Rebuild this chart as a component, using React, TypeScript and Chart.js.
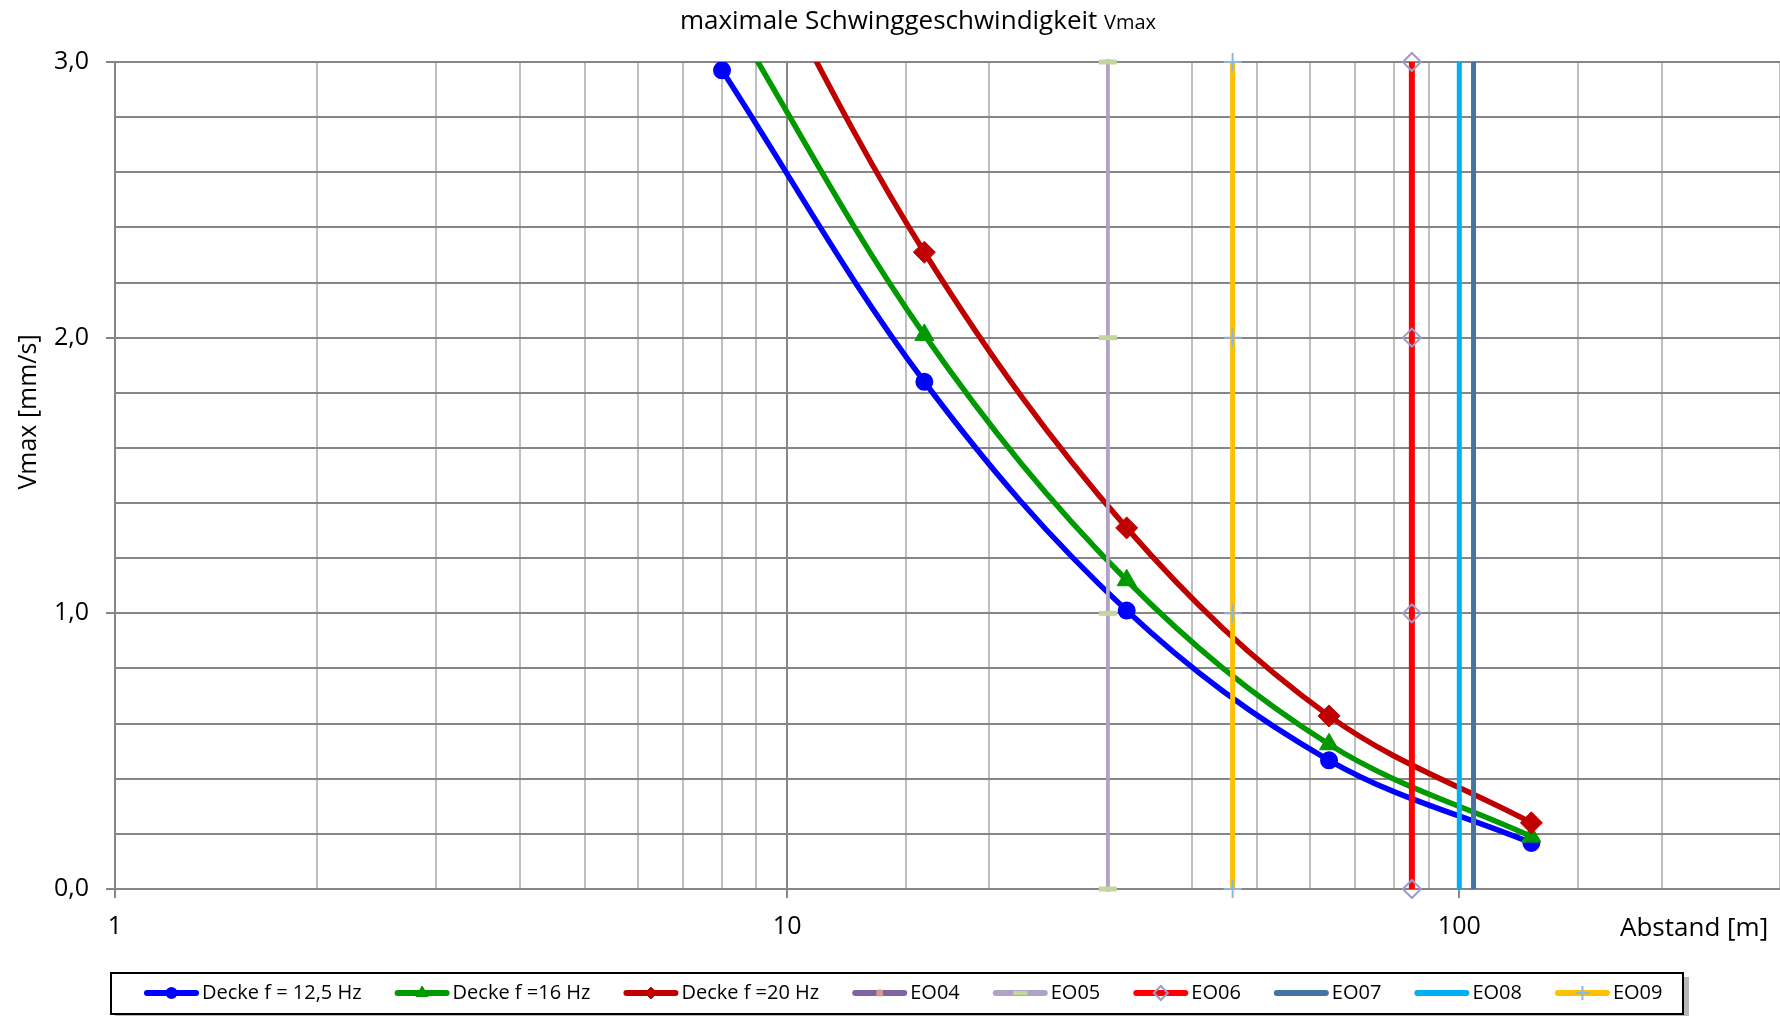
import React, { useEffect, useRef } from 'react';
import { Chart, registerables } from 'chart.js';

Chart.register(...registerables);

const FONT = "'Open Sans', 'DejaVu Sans', sans-serif";

// ---------- data ----------
const distances = [8, 16, 32, 64, 128];
const vmax125 = [2.97, 1.84, 1.01, 0.467, 0.167];
const vmax16 = [3.22, 2.01, 1.12, 0.525, 0.19];
const vmax20 = [3.65, 2.31, 1.31, 0.628, 0.24];
const curveLabels = ['Decke f = 12,5 Hz', 'Decke f =16 Hz', 'Decke f =20 Hz'];

const eoLabels = ['EO04', 'EO05', 'EO06', 'EO07', 'EO08', 'EO09'];
const eoDistances = [30, 30, 85, 105, 100, 46];
const eoLevels = [0, 1, 2, 3];

const xTickLabels = [1, 10, 100];
const yTickLabels = [0, 1, 2, 3];
const xMin = 1;
const xMax = 300;
const yMin = 0;
const yMax = 3;
const yStep = 0.2;

const titleMain = 'maximale Schwinggeschwindigkeit ';
const titleSub = 'Vmax';
const xTitle = 'Abstand [m]';
const yTitle = 'Vmax [mm/s]';

// ---------- styles ----------
type Sty = {
  color: string;
  width: number;
  point: string | false;
  radius: number;
  pBg: string;
  pBorder: string;
  pbw: number;
  lRadius: number;
};

const curveStyles: Sty[] = [
  { color: '#0000ff', width: 5.5, point: 'circle', radius: 8, pBg: '#0000ff', pBorder: '#0000ff', pbw: 2, lRadius: 5 },
  { color: '#009900', width: 5.5, point: 'triangle', radius: 11, pBg: '#009900', pBorder: '#009900', pbw: 1, lRadius: 7 },
  { color: '#c00000', width: 5.5, point: 'rectRot', radius: 11, pBg: '#c00000', pBorder: '#c00000', pbw: 1, lRadius: 6 },
];

const eoStyles: Sty[] = [
  { color: '#8064a2', width: 3, point: 'rect', radius: 3, pBg: '#d99694', pBorder: '#d99694', pbw: 1, lRadius: 4 },
  { color: '#b3a2c7', width: 3.5, point: 'line', radius: 9, pBg: '#c3d69b', pBorder: '#c3d69b', pbw: 5, lRadius: 7 },
  { color: '#ff0000', width: 6, point: 'rectRot', radius: 9, pBg: 'rgba(0,0,0,0)', pBorder: '#a39ac7', pbw: 2, lRadius: 7 },
  { color: '#4672a8', width: 5, point: false, radius: 0, pBg: '#4672a8', pBorder: '#4672a8', pbw: 0, lRadius: 0 },
  { color: '#00b0f0', width: 5, point: false, radius: 0, pBg: '#00b0f0', pBorder: '#00b0f0', pbw: 0, lRadius: 0 },
  { color: '#ffc000', width: 5, point: 'cross', radius: 9, pBg: '#8eb4e3', pBorder: '#8eb4e3', pbw: 2, lRadius: 7 },
];

const near = (a: number, b: number) => Math.abs(a - b) < 1e-6;
const isXLabel = (v: number) => xTickLabels.some((t) => near(t, v));
const isYLabel = (v: number) => yTickLabels.some((t) => near(t, v));
const isPow10 = (v: number) => {
  if (!(v > 0)) return false;
  const l = Math.log10(v);
  return Math.abs(l - Math.round(l)) < 1e-9;
};

function drawMarker(ctx: CanvasRenderingContext2D, style: string, x: number, y: number, r: number, bg: string, border: string, bw: number) {
  ctx.save();
  ctx.fillStyle = bg;
  ctx.strokeStyle = border;
  ctx.lineWidth = bw;
  ctx.beginPath();
  if (style === 'circle') {
    ctx.arc(x, y, r, 0, Math.PI * 2);
    ctx.fill();
    ctx.stroke();
  } else if (style === 'triangle') {
    ctx.moveTo(x, y - r);
    ctx.lineTo(x + r * 0.866, y + r * 0.5);
    ctx.lineTo(x - r * 0.866, y + r * 0.5);
    ctx.closePath();
    ctx.fill();
    ctx.stroke();
  } else if (style === 'rectRot') {
    ctx.moveTo(x, y - r);
    ctx.lineTo(x + r, y);
    ctx.lineTo(x, y + r);
    ctx.lineTo(x - r, y);
    ctx.closePath();
    ctx.fill();
    ctx.stroke();
  } else if (style === 'rect') {
    ctx.rect(x - r * 0.7, y - r * 0.7, r * 1.4, r * 1.4);
    ctx.fill();
    ctx.stroke();
  } else if (style === 'line') {
    ctx.moveTo(x - r, y);
    ctx.lineTo(x + r, y);
    ctx.stroke();
  } else if (style === 'cross') {
    ctx.moveTo(x - r, y);
    ctx.lineTo(x + r, y);
    ctx.moveTo(x, y - r);
    ctx.lineTo(x, y + r);
    ctx.stroke();
  }
  ctx.restore();
}

const textPlugin = {
  id: 'customText',
  afterDraw(chart: any) {
    const ctx: CanvasRenderingContext2D = chart.ctx;
    ctx.save();
    // title
    ctx.fillStyle = '#000';
    ctx.textBaseline = 'alphabetic';
    ctx.textAlign = 'left';
    ctx.font = `26px ${FONT}`;
    const wMain = ctx.measureText(titleMain).width;
    ctx.font = `20px ${FONT}`;
    const wSub = ctx.measureText(titleSub).width;
    const tx = 918 - (wMain + wSub) / 2;
    ctx.font = `26px ${FONT}`;
    ctx.fillText(titleMain, tx, 29);
    ctx.font = `20px ${FONT}`;
    ctx.fillText(titleSub, tx + wMain, 29);

    // x axis title
    ctx.font = `26px ${FONT}`;
    ctx.textAlign = 'left';
    ctx.fillText(xTitle, 1620, 936);

    // y axis title
    ctx.save();
    ctx.translate(29, 412);
    ctx.rotate(-Math.PI / 2);
    ctx.textAlign = 'center';
    ctx.textBaseline = 'middle';
    ctx.font = `25px ${FONT}`;
    ctx.fillText(yTitle, 0, 0);
    ctx.restore();

    // legend
    const bx = 110, by = 972, bw = 1574, bh = 43;
    ctx.fillStyle = 'rgba(0,0,0,0.28)';
    ctx.fillRect(bx + 5, by + 5, bw, bh);
    ctx.fillStyle = '#fff';
    ctx.fillRect(bx, by, bw, bh);
    ctx.strokeStyle = '#000';
    ctx.lineWidth = 2;
    ctx.strokeRect(bx + 1, by + 1, bw - 2, bh - 2);

    const labels = [...curveLabels, ...eoLabels];
    const styles = [...curveStyles, ...eoStyles];
    let x = 144;
    const cy = 993;
    ctx.font = `20px ${FONT}`;
    labels.forEach((lab, i) => {
      const s = styles[i];
      ctx.save();
      ctx.strokeStyle = s.color;
      ctx.lineWidth = 6;
      ctx.lineCap = 'round';
      ctx.beginPath();
      ctx.moveTo(x + 3, cy);
      ctx.lineTo(x + 52, cy);
      ctx.stroke();
      ctx.restore();
      if (s.point) {
        drawMarker(ctx, s.point, x + 27.5, cy, s.lRadius, s.pBg, s.pBorder, Math.min(s.pbw, 4));
      }
      ctx.fillStyle = '#000';
      ctx.textAlign = 'left';
      ctx.textBaseline = 'middle';
      ctx.fillText(lab, x + 58, cy);
      x += 58 + ctx.measureText(lab).width + 33;
    });
    ctx.restore();
  },
};

export default function App() {
  const ref = useRef<HTMLCanvasElement | null>(null);

  useEffect(() => {
    document.body.style.margin = '0';
    const canvas = ref.current;
    if (!canvas) return;

    const n = 3 + eoLabels.length;
    const curveSeries = [vmax125, vmax16, vmax20];

    const datasets: any[] = [];
    curveSeries.forEach((vals, i) => {
      const s = curveStyles[i];
      datasets.push({
        label: curveLabels[i],
        data: distances.map((d, k) => ({ x: d, y: vals[k] })),
        borderColor: s.color,
        backgroundColor: s.color,
        borderWidth: s.width,
        tension: 0.35,
        pointStyle: s.point,
        pointRadius: s.radius,
        pointBackgroundColor: s.pBg,
        pointBorderColor: s.pBorder,
        pointBorderWidth: s.pbw,
        clip: { top: 0, left: false, right: false, bottom: false },
        order: n - i,
      });
    });
    eoLabels.forEach((lab, j) => {
      const s = eoStyles[j];
      datasets.push({
        label: lab,
        data: eoLevels.map((lv) => ({ x: eoDistances[j], y: lv })),
        borderColor: s.color,
        backgroundColor: s.color,
        borderWidth: s.width,
        tension: 0,
        pointStyle: s.point,
        pointRadius: s.point ? s.radius : 0,
        pointBackgroundColor: s.pBg,
        pointBorderColor: s.pBorder,
        pointBorderWidth: s.pbw,
        clip: false,
        order: n - (3 + j),
      });
    });

    const chart = new Chart(canvas, {
      type: 'line',
      data: { datasets },
      options: {
        responsive: false,
        animation: false,
        devicePixelRatio: 1,
        layout: { autoPadding: false, padding: { top: 62, left: 0, right: 0, bottom: 0 } },
        plugins: {
          legend: { display: false },
          title: { display: false },
          tooltip: { enabled: false },
        },
        scales: {
          x: {
            type: 'logarithmic',
            min: xMin,
            max: xMax,
            afterFit: (s: any) => {
              s.height = 127;
            },
            grid: {
              color: (c: any) => (isPow10(c.tick?.value) ? '#868686' : '#bfbfbf'),
              lineWidth: 2,
              tickLength: 9,
              tickWidth: 2,
              tickColor: (c: any) => (isXLabel(c.tick?.value) ? '#868686' : 'rgba(0,0,0,0)'),
            },
            border: { color: '#868686', width: 2 },
            ticks: {
              autoSkip: false,
              maxRotation: 0,
              minRotation: 0,
              padding: 0,
              color: '#000',
              font: { family: FONT, size: 25, lineHeight: 2.32 },
              callback: (v: any) => (isXLabel(Number(v)) ? String(Math.round(Number(v))) : ''),
            },
          },
          y: {
            type: 'linear',
            min: yMin,
            max: yMax,
            afterFit: (s: any) => {
              s.width = 115;
            },
            grid: {
              color: '#868686',
              lineWidth: 2,
              tickLength: 9,
              tickWidth: 2,
              tickColor: (c: any) => (isYLabel(c.tick?.value) ? '#868686' : 'rgba(0,0,0,0)'),
            },
            border: { color: '#868686', width: 2 },
            ticks: {
              stepSize: yStep,
              maxTicksLimit: 100,
              autoSkip: false,
              padding: 17,
              color: '#000',
              font: { family: FONT, size: 25 },
              callback: (v: any) => (isYLabel(Number(v)) ? Number(v).toFixed(1).replace('.', ',') : ''),
            },
          },
        },
      } as any,
      plugins: [textPlugin],
    });

    return () => {
      chart.destroy();
    };
  }, []);

  return (
    <canvas
      ref={ref}
      width={1780}
      height={1016}
      style={{ display: 'block', width: 1780, height: 1016 }}
    />
  );
}
